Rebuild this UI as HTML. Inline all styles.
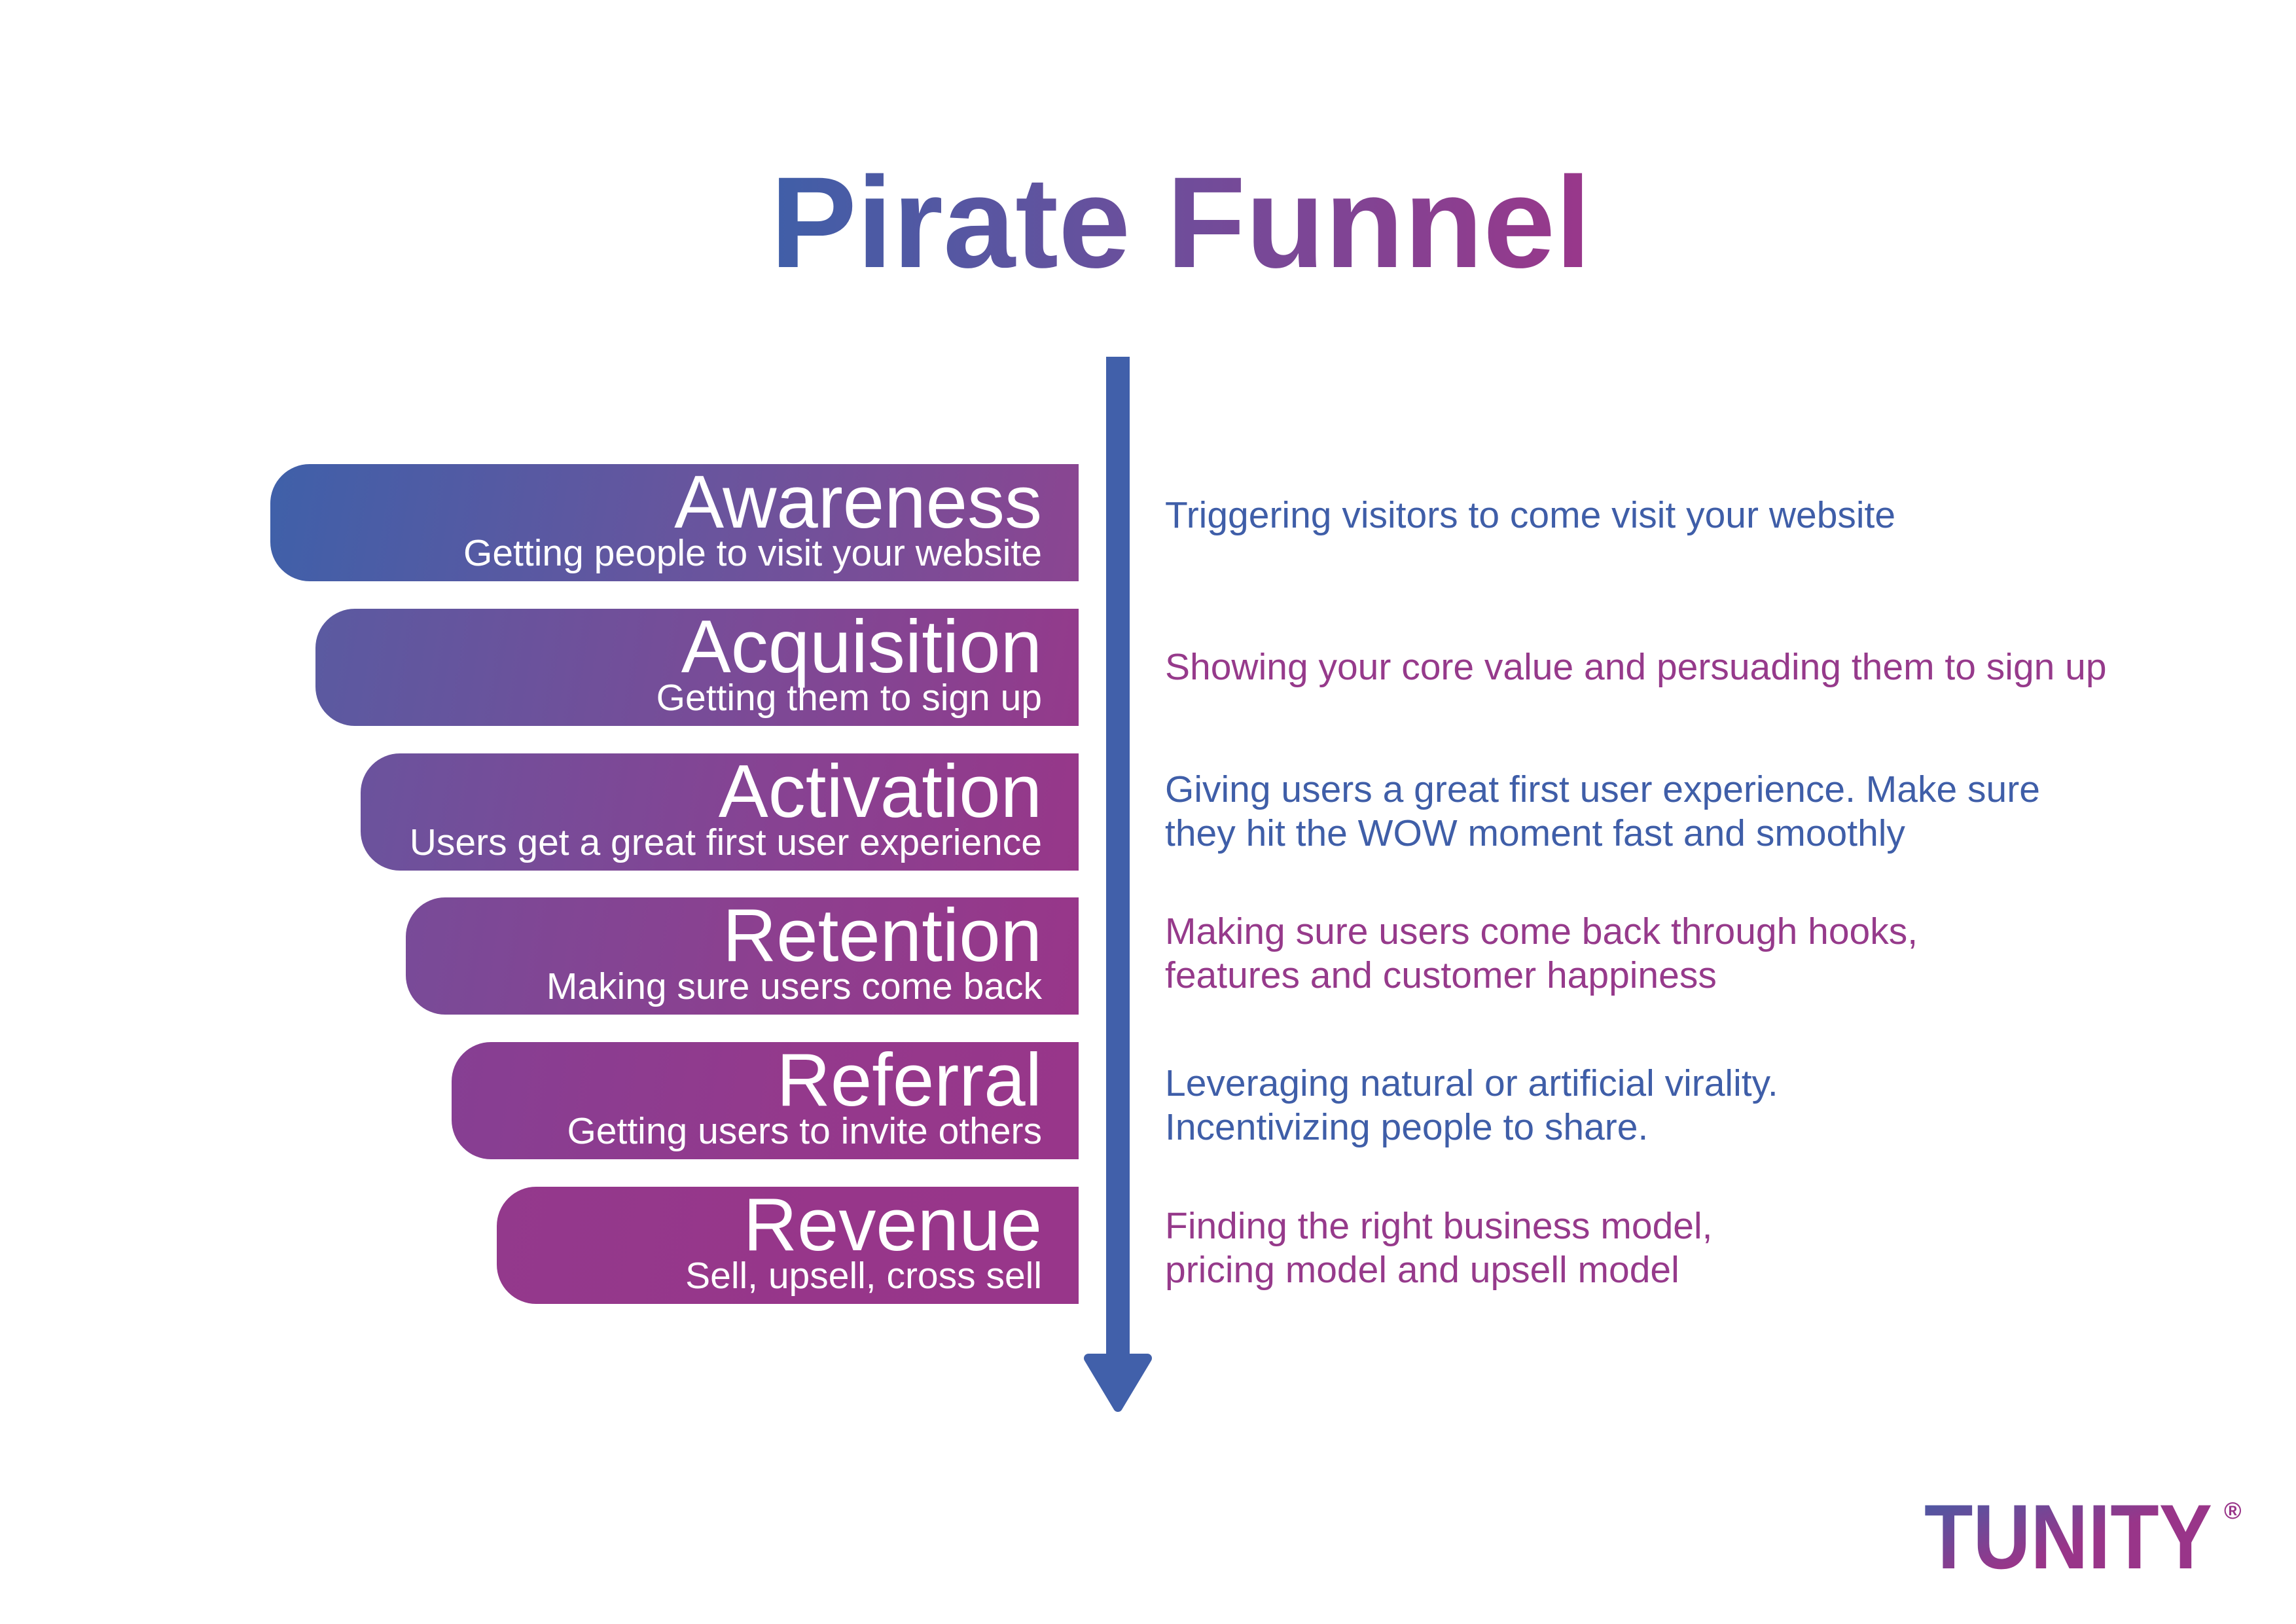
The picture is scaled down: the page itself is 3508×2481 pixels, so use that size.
<!DOCTYPE html>
<html><head><meta charset="utf-8">
<style>
html,body{margin:0;padding:0;background:#fff;}
body{width:3508px;height:2481px;position:relative;overflow:hidden;font-family:"Liberation Sans",sans-serif;}
.title{position:absolute;left:50px;width:3508px;top:241px;text-align:center;font-size:198px;font-weight:bold;line-height:1;}
.title span{background:linear-gradient(90deg,#3f5fa8 0%,#6b4f9c 45%,#9a378a 100%);-webkit-background-clip:text;background-clip:text;color:transparent;padding:0 10px;}
.box{position:absolute;right:1860px;height:179px;border-radius:60px 0 0 60px;color:#fff;text-align:right;}
.box .h{position:absolute;right:56px;top:2px;font-size:114px;line-height:1;white-space:nowrap;}
.box .s{position:absolute;right:56px;top:108px;font-size:57px;line-height:1;white-space:nowrap;}
.d{position:absolute;left:1780px;font-size:57px;line-height:67px;white-space:nowrap;}
.b{color:#3f5ea8}.p{color:#963a8b}
</style></head><body>
<div class="title"><span>Pirate Funnel</span></div>

<div class="box" style="left:413px;top:709px;background:linear-gradient(100deg,#3f60a9 0%,#6a549d 55%,#8b4591 100%)"><div class="h">Awareness</div><div class="s">Getting people to visit your website</div></div>
<div class="box" style="left:482px;top:930px;background:linear-gradient(100deg,#5a5aa1 0%,#7a4b97 55%,#943a8b 100%)"><div class="h">Acquisition</div><div class="s">Getting them to sign up</div></div>
<div class="box" style="left:551px;top:1151px;background:linear-gradient(100deg,#6a539d 0%,#864393 55%,#973789 100%)"><div class="h">Activation</div><div class="s">Users get a great first user experience</div></div>
<div class="box" style="left:620px;top:1371px;background:linear-gradient(100deg,#784b98 0%,#8d3f8f 55%,#983689 100%)"><div class="h">Retention</div><div class="s">Making sure users come back</div></div>
<div class="box" style="left:690px;top:1592px;background:linear-gradient(100deg,#863f93 0%,#94398c 55%,#98368a 100%)"><div class="h">Referral</div><div class="s">Getting users to invite others</div></div>
<div class="box" style="left:759px;top:1813px;background:linear-gradient(100deg,#93398c 0%,#97368a 55%,#98368a 100%)"><div class="h">Revenue</div><div class="s">Sell, upsell, cross sell</div></div>

<svg style="position:absolute;left:0;top:0" width="3508" height="2481">
<rect x="1690" y="545" width="36" height="1545" fill="#4160aa"/>
<path d="M1663 2075 L1753 2075 L1708 2150 Z" fill="#4160aa" stroke="#4160aa" stroke-width="14" stroke-linejoin="round"/>
<defs><linearGradient id="lg" x1="0" y1="0" x2="1" y2="1"><stop offset="0" stop-color="#3f5fa8"/><stop offset="0.55" stop-color="#993589"/><stop offset="1" stop-color="#993589"/></linearGradient></defs>
<text x="2940" y="2396" font-family="Liberation Sans,sans-serif" font-weight="bold" font-size="140" fill="url(#lg)" textLength="440" lengthAdjust="spacingAndGlyphs">TUNITY</text>
<text x="3398" y="2320" font-family="Liberation Sans,sans-serif" font-weight="bold" font-size="36" fill="#993589">®</text>
</svg>

<div class="d b" style="top:754px">Triggering visitors to come visit your website</div>
<div class="d p" style="top:986px">Showing your core value and persuading them to sign up</div>
<div class="d b" style="top:1173px">Giving users a great first user experience. Make sure<br>they hit the WOW moment fast and smoothly</div>
<div class="d p" style="top:1390px">Making sure users come back through hooks,<br>features and customer happiness</div>
<div class="d b" style="top:1622px">Leveraging natural or artificial virality.<br>Incentivizing people to share.</div>
<div class="d p" style="top:1840px">Finding the right business model,<br>pricing model and upsell model</div>
</body></html>
